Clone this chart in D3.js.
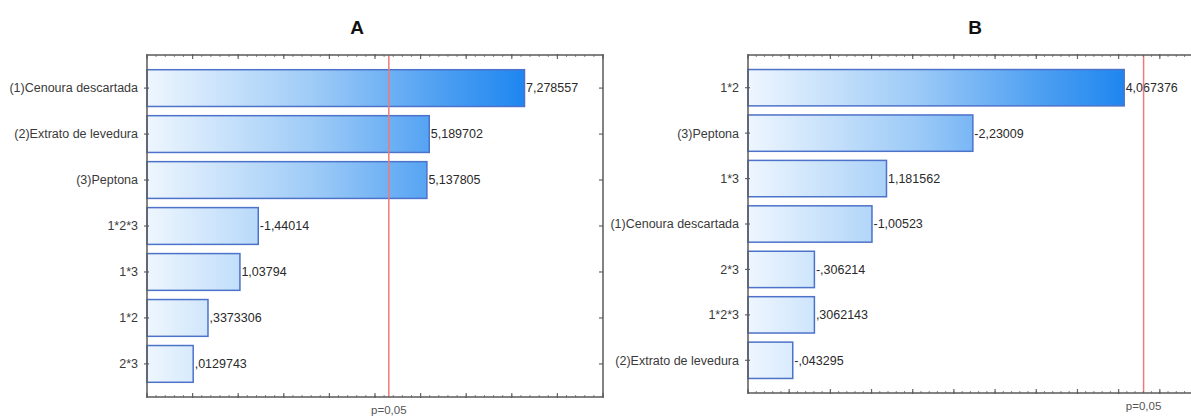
<!DOCTYPE html>
<html>
<head>
<meta charset="utf-8">
<script src="https://cdn.jsdelivr.net/npm/d3@7"></script>
<style>
  html, body { margin: 0; padding: 0; background: #fff; }
  svg { display: block; font-family: "Liberation Sans", Arial, sans-serif; }
</style>
</head>
<body>
<svg id="chart" width="1191" height="416"></svg>
<script>
// Pareto charts of standardized effects
const termsA = ["(1)Cenoura descartada", "(2)Extrato de levedura", "(3)Peptona", "1*2*3", "1*3", "1*2", "2*3"];
const effectsA = [7.278557, 5.189702, 5.137805, -1.44014, 1.03794, 0.3373306, 0.0129743];

const termsB = ["1*2", "(3)Peptona", "1*3", "(1)Cenoura descartada", "2*3", "1*2*3", "(2)Extrato de levedura"];
const effectsB = [4.067376, -2.23009, 1.181562, -1.00523, -0.306214, 0.3062143, -0.043295];

const panelTitles = ["A", "B"];
const criticalT = 4.303;          // t(0.975, df = 2)
const criticalLabel = "p=0,05";

// Statistica-style number text: comma decimal, no leading zero
const fmt = v => String(v).replace(".", ",").replace(/^(-?)0,/, "$1,");

const svg = d3.select("#chart");

function drawPanel(cfg) {
  const { id, title, terms, effects, domain, step, left, right, top, bottom, titleX } = cfg;
  const g = svg.append("g");

  const x = d3.scaleLinear().domain(domain).range([left, right]);
  const y = d3.scaleBand().domain(terms).range([top, bottom])
    .paddingInner(0.2).paddingOuter(0.32);

  const maxAbs = d3.max(effects, v => Math.abs(v));

  // horizontal gradient in plot space: longer bars reach deeper blue
  const grad = svg.append("defs").append("linearGradient")
    .attr("id", "grad" + id)
    .attr("gradientUnits", "userSpaceOnUse")
    .attr("x1", x(domain[0])).attr("x2", x(maxAbs))
    .attr("y1", 0).attr("y2", 0);
  grad.append("stop").attr("offset", "0%").attr("stop-color", "#eef6fe");
  grad.append("stop").attr("offset", "45%").attr("stop-color", "#9ccaf7");
  grad.append("stop").attr("offset", "78%").attr("stop-color", "#4d9ff2");
  grad.append("stop").attr("offset", "100%").attr("stop-color", "#1e86f0");

  // bars start at the left edge of the axis
  g.selectAll("rect.bar").data(effects).join("rect")
    .attr("class", "bar")
    .attr("x", x(domain[0]))
    .attr("y", (d, i) => y(terms[i]))
    .attr("width", d => x(Math.abs(d)) - x(domain[0]))
    .attr("height", y.bandwidth())
    .attr("fill", `url(#grad${id})`)
    .attr("stroke", "#4d72c9")
    .attr("stroke-width", 1.5);

  // value labels
  g.selectAll("text.val").data(effects).join("text")
    .attr("class", "val")
    .attr("x", d => x(Math.abs(d)) + 1.5)
    .attr("y", (d, i) => y(terms[i]) + y.bandwidth() / 2)
    .attr("dy", "0.35em")
    .attr("font-size", 12.5)
    .attr("fill", "#2a2a2a")
    .text(d => fmt(d));

  // critical value line
  g.append("line")
    .attr("x1", x(criticalT)).attr("x2", x(criticalT))
    .attr("y1", top).attr("y2", bottom)
    .attr("stroke", "#ee7b78").attr("stroke-width", 1.5);

  g.append("text")
    .attr("x", x(criticalT))
    .attr("y", bottom + 17)
    .attr("text-anchor", "middle")
    .attr("font-size", 11.5)
    .attr("fill", "#555")
    .text(criticalLabel);

  // major and minor ticks along top and bottom edges
  const majors = d3.range(domain[0], domain[1] + 1e-9, step);
  const minors = d3.range(domain[0], domain[1] + 1e-9, step / 5);
  const tickG = g.append("g").attr("stroke", "#666");
  [top, bottom].forEach((yy, k) => {
    const dir = k === 0 ? 1 : -1;
    tickG.selectAll(null).data(minors).join("line")
      .attr("x1", d => x(d)).attr("x2", d => x(d))
      .attr("y1", yy).attr("y2", yy + dir * 2)
      .attr("stroke-width", 0.8);
    tickG.selectAll(null).data(majors).join("line")
      .attr("x1", d => x(d)).attr("x2", d => x(d))
      .attr("y1", yy - dir * 1).attr("y2", yy + dir * 4)
      .attr("stroke-width", 1.2);
  });

  // category ticks on left and right edges
  tickG.selectAll(null).data(terms).join("line")
    .attr("x1", left - 3).attr("x2", left + 2)
    .attr("y1", d => y(d) + y.bandwidth() / 2)
    .attr("y2", d => y(d) + y.bandwidth() / 2)
    .attr("stroke-width", 1.2);
  tickG.selectAll(null).data(terms).join("line")
    .attr("x1", right - 4).attr("x2", right)
    .attr("y1", d => y(d) + y.bandwidth() / 2)
    .attr("y2", d => y(d) + y.bandwidth() / 2)
    .attr("stroke-width", 1.2);

  // frame
  g.append("rect")
    .attr("x", left).attr("y", top)
    .attr("width", right - left).attr("height", bottom - top)
    .attr("fill", "none").attr("stroke", "#5a5a5a").attr("stroke-width", 1.5);

  // category labels
  g.selectAll("text.cat").data(terms).join("text")
    .attr("class", "cat")
    .attr("x", left - 9)
    .attr("y", d => y(d) + y.bandwidth() / 2)
    .attr("dy", "0.35em")
    .attr("text-anchor", "end")
    .attr("font-size", 12.5)
    .attr("fill", "#3a3a3a")
    .text(d => d);

  // panel title
  svg.append("text")
    .attr("x", titleX).attr("y", 34)
    .attr("text-anchor", "middle")
    .attr("font-size", 19)
    .attr("font-weight", "bold")
    .attr("fill", "#111")
    .text(title);
}

drawPanel({ id: "A", title: panelTitles[0], terms: termsA, effects: effectsA,
  domain: [-1, 9], step: 1, left: 147, right: 603, top: 55, bottom: 397, titleX: 357 });

drawPanel({ id: "B", title: panelTitles[1], terms: termsB, effects: effectsB,
  domain: [-0.5, 5], step: 0.5, left: 748, right: 1201, top: 55, bottom: 393, titleX: 975 });
</script>
</body>
</html>
